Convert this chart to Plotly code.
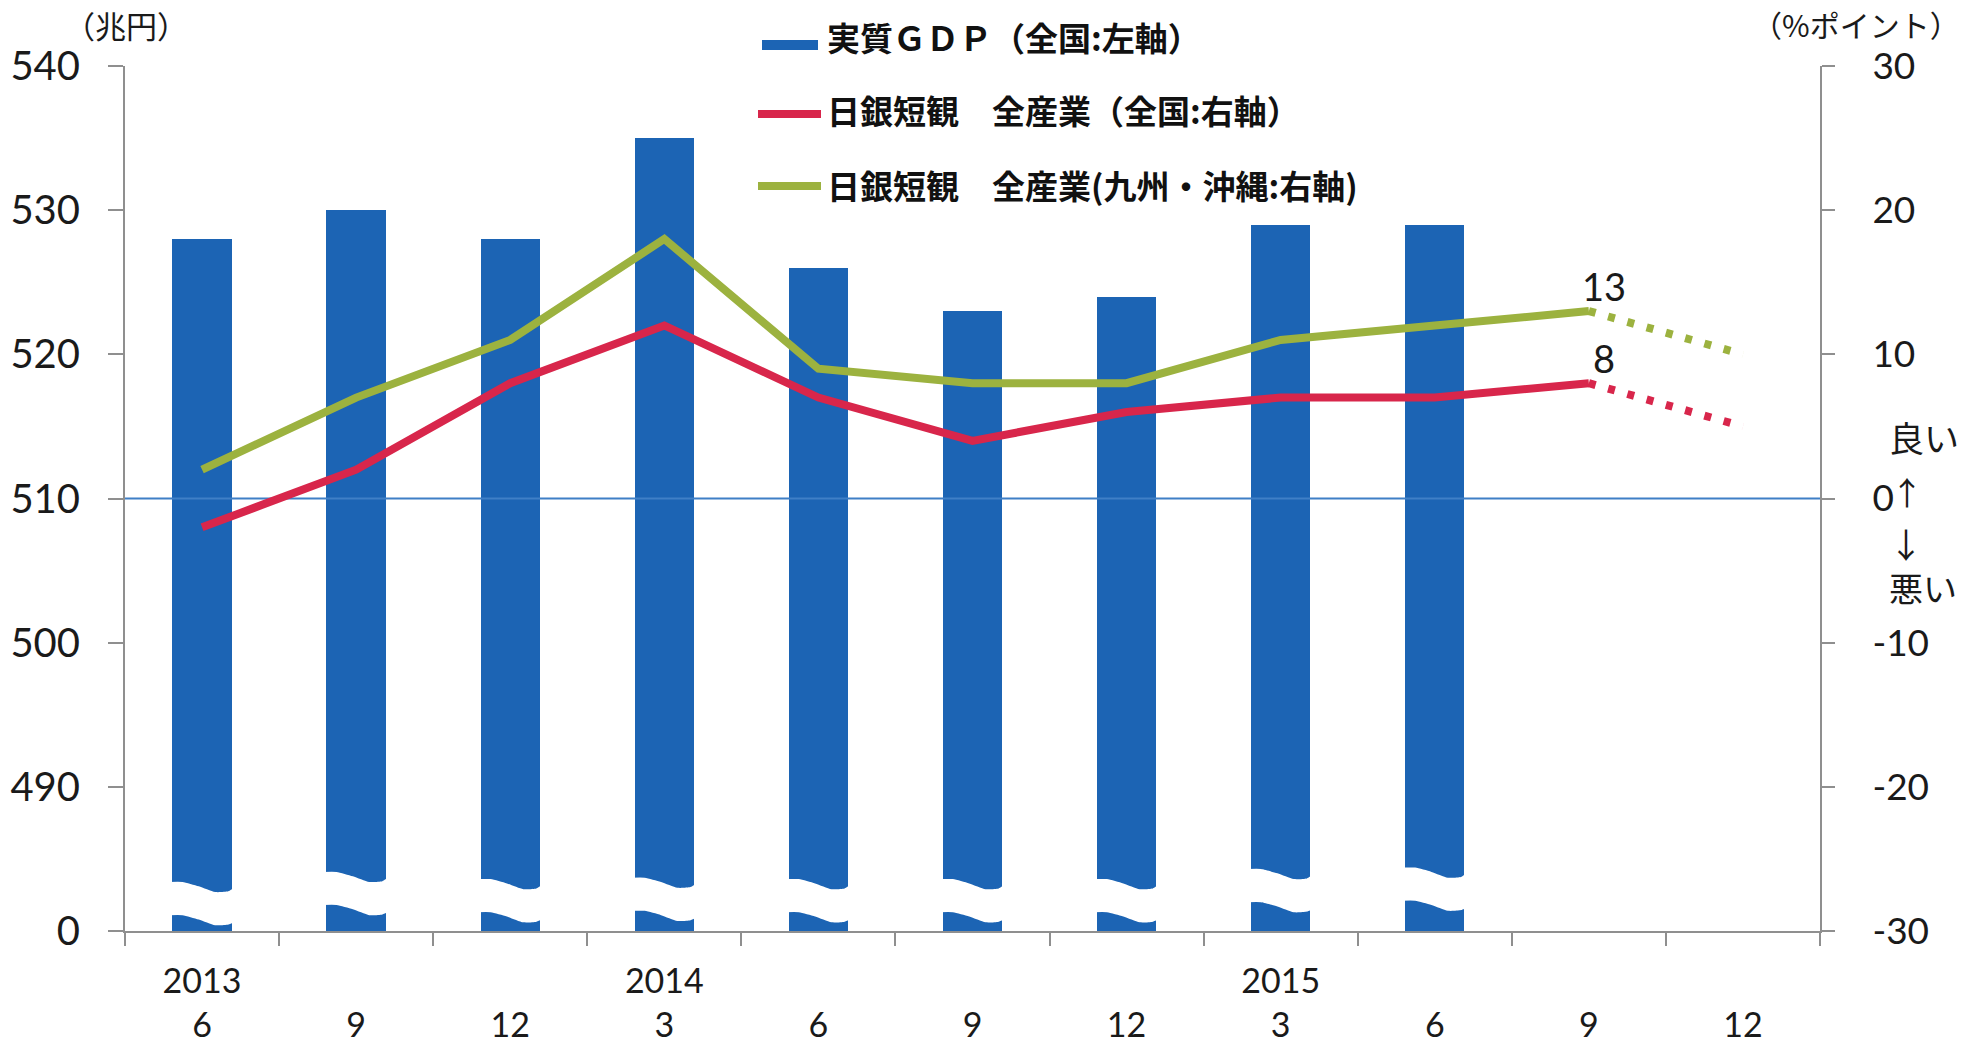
import plotly.graph_objects as go

# ---------------- data ----------------
periods = ["2013/6", "2013/9", "2013/12", "2014/3", "2014/6", "2014/9",
           "2014/12", "2015/3", "2015/6", "2015/9", "2015/12"]
year_labels = ["2013", "", "", "2014", "", "", "", "2015", "", "", ""]
month_labels = ["6", "9", "12", "3", "6", "9", "12", "3", "6", "9", "12"]

# 実質GDP（全国, 兆円, left axis)
gdp_trillion_yen = [528, 530, 528, 535, 526, 523, 524, 529, 529, None, None]
# 日銀短観 全産業 (全国, %ポイント, right axis)
tankan_japan = [-2, 2, 8, 12, 7, 4, 6, 7, 7, 8, None]
# 日銀短観 全産業 (九州・沖縄, %ポイント, right axis)
tankan_kyushu = [2, 7, 11, 18, 9, 8, 8, 11, 12, 13, None]
# forecasts (dotted): last actual -> 2015/12 forecast
tankan_japan_forecast = [None, None, None, None, None, None, None, None, None, 8, 5]
tankan_kyushu_forecast = [None, None, None, None, None, None, None, None, None, 13, 10]

# left axis is broken: its bottom (480 on the scale) is labelled 0
left_tick_values = [480, 490, 500, 510, 520, 530, 540]
left_tick_labels = ["0", "490", "500", "510", "520", "530", "540"]
right_tick_values = [-30, -20, -10, 0, 10, 20, 30]
right_tick_labels = ["-30", "-20", "-10", "0", "10", "20", "30"]

legend_labels = ["実質ＧＤＰ（全国:左軸）",
                 "日銀短観　全産業（全国:右軸）",
                 "日銀短観　全産業(九州・沖縄:右軸)"]

# ---------------- style ----------------
BLUE = "#1c64b4"
RED = "#d8264b"
GREEN = "#9cb23f"
ZERO_BLUE = "#3f7fc6"
AXIS_GRAY = "#8f8f8f"
TXT = "#1a1a1a"
NUM_FONT = "Lato"
JP_FONT = "Noto Sans CJK JP"

W, H = 1965, 1049
ML, MR, MT, MB = 125, 145, 66, 118
PW, PH = W - ML - MR, H - MT - MB


def px_x(p):
    return (p - ML) / PW


def px_y(p):
    return (H - MB - p) / PH


x_pos = list(range(len(periods)))
BAR_W = 0.385

# break marks (white wavy band near bottom of each bar), in left-axis units
break_centers = [481.9, 482.6, 482.1, 482.2, 482.1, 482.1, 482.1, 482.8, 482.9]
BREAK_HALF = 1.15
wave_t = [0.0, 0.2, 0.45, 0.7, 0.9, 1.0]
wave_off = [0.35, 0.35, 0.05, -0.35, -0.3, -0.05]

fig = go.Figure()

fig.add_trace(go.Bar(
    x=x_pos, y=gdp_trillion_yen, width=BAR_W, marker=dict(color=BLUE, line=dict(width=0)),
    yaxis="y", showlegend=False, hoverinfo="skip"))

bx, by = [], []
for i, v in enumerate(gdp_trillion_yen):
    if v is None:
        continue
    c = break_centers[i]
    x0 = x_pos[i] - BAR_W / 2 - 0.02
    span = BAR_W + 0.04
    top_x = [x0 + t * span for t in wave_t]
    top_y = [c + BREAK_HALF + o for o in wave_off]
    bot_x = list(reversed(top_x))
    bot_y = [c - BREAK_HALF + o for o in reversed(wave_off)]
    bx += top_x + bot_x + [None]
    by += top_y + bot_y + [None]
fig.add_trace(go.Scatter(
    x=bx, y=by, mode="lines", fill="toself", fillcolor="white",
    line=dict(width=0, color="white", shape="spline", smoothing=0.6),
    yaxis="y", showlegend=False, hoverinfo="skip"))

# zero line of right axis
fig.add_trace(go.Scatter(
    x=[x_pos[0] - 0.5, x_pos[-1] + 0.5], y=[0, 0], mode="lines",
    line=dict(color=ZERO_BLUE, width=2), yaxis="y2", showlegend=False, hoverinfo="skip"))

for vals, fc, col in [(tankan_japan, tankan_japan_forecast, RED),
                      (tankan_kyushu, tankan_kyushu_forecast, GREEN)]:
    fig.add_trace(go.Scatter(
        x=x_pos, y=vals, mode="lines", line=dict(color=col, width=8),
        yaxis="y2", showlegend=False, hoverinfo="skip"))
    fig.add_trace(go.Scatter(
        x=x_pos, y=fc, mode="lines", line=dict(color=col, width=8, dash="7px,13px"),
        yaxis="y2", showlegend=False, hoverinfo="skip"))

annotations = []
# value labels on last actual points
for series in (tankan_japan, tankan_kyushu):
    last = max(i for i, v in enumerate(series) if v is not None)
    annotations.append(dict(
        x=x_pos[last], y=series[last], xref="x", yref="y2", text=str(series[last]),
        showarrow=False, xshift=15, yshift=25, xanchor="center", yanchor="middle",
        font=dict(family=NUM_FONT, size=38, color=TXT)))

# unit labels
annotations.append(dict(x=px_x(126), y=px_y(1), xref="paper", yref="paper", text="（兆円）",
                        showarrow=False, xanchor="center", yanchor="top", borderpad=0,
                        font=dict(family=JP_FONT, size=31, color=TXT)))
annotations.append(dict(x=px_x(1961), y=px_y(1), xref="paper", yref="paper", text="（%ポイント）",
                        showarrow=False, xanchor="right", yanchor="top", borderpad=0,
                        font=dict(family=JP_FONT, size=30, color=TXT)))
# good / bad markers
annotations.append(dict(x=px_x(1887), y=px_y(437), xref="paper", yref="paper", text="良い",
                        showarrow=False, xanchor="left", yanchor="middle",
                        font=dict(family=JP_FONT, size=35, color=TXT)))
annotations.append(dict(x=px_x(1889), y=px_y(491), xref="paper", yref="paper", text="↑",
                        showarrow=False, xanchor="left", yanchor="middle",
                        font=dict(family=JP_FONT, size=32, color=TXT)))
annotations.append(dict(x=px_x(1887), y=px_y(565), xref="paper", yref="paper", text="↓<br>悪い",
                        showarrow=False, xanchor="left", yanchor="middle", align="left",
                        font=dict(family=JP_FONT, size=34, color=TXT)))

# manual legend
shapes = [
    dict(type="rect", xref="paper", yref="paper", x0=px_x(762), x1=px_x(818),
         y0=px_y(50), y1=px_y(40), fillcolor=BLUE, line=dict(width=0)),
    dict(type="line", xref="paper", yref="paper", x0=px_x(758), x1=px_x(821),
         y0=px_y(114), y1=px_y(114), line=dict(color=RED, width=8)),
    dict(type="line", xref="paper", yref="paper", x0=px_x(758), x1=px_x(821),
         y0=px_y(186), y1=px_y(186), line=dict(color=GREEN, width=8)),
]
for txt, cy in zip(legend_labels, [37, 110, 185]):
    annotations.append(dict(x=px_x(825), y=px_y(cy), xref="paper", yref="paper", text=txt,
                            showarrow=False, xanchor="left", yanchor="middle",
                            font=dict(family=JP_FONT, size=33, color="#111111", weight="bold")))

boundaries = [x - 0.5 for x in x_pos] + [x_pos[-1] + 0.5]

fig.update_layout(
    width=W, height=H,
    margin=dict(l=ML, r=MR, t=MT, b=MB, pad=0),
    paper_bgcolor="white", plot_bgcolor="white",
    showlegend=False, bargap=0,
    xaxis=dict(
        range=[x_pos[0] - 0.5, x_pos[-1] + 0.5], tickmode="array", tickvals=x_pos,
        ticktext=[f"{y if y else ' '}<br>{m}" for y, m in zip(year_labels, month_labels)],
        ticks="", showline=True, linecolor=AXIS_GRAY, linewidth=2, showgrid=False,
        zeroline=False, tickfont=dict(family=NUM_FONT, size=34, color=TXT),
        ticklabelstandoff=19, automargin=False,
        minor=dict(tickmode="array", tickvals=boundaries, ticks="outside", ticklen=13,
                   tickwidth=2, tickcolor=AXIS_GRAY, showgrid=False)),
    yaxis=dict(
        range=[left_tick_values[0], left_tick_values[-1]], tickmode="array",
        tickvals=left_tick_values, ticktext=left_tick_labels, ticks="outside", ticklen=15,
        tickwidth=2, tickcolor=AXIS_GRAY, showline=True, linecolor=AXIS_GRAY, linewidth=2,
        showgrid=False, zeroline=False, tickfont=dict(family=NUM_FONT, size=40, color=TXT),
        ticklabelstandoff=20, automargin=False),
    yaxis2=dict(
        overlaying="y", side="right", range=[right_tick_values[0], right_tick_values[-1]],
        tickmode="array", tickvals=right_tick_values, ticktext=right_tick_labels,
        ticks="outside", ticklen=13,
        tickwidth=2, tickcolor=AXIS_GRAY, showline=True, linecolor=AXIS_GRAY, linewidth=2,
        showgrid=False, zeroline=False, tickfont=dict(family=NUM_FONT, size=37, color=TXT),
        ticklabelstandoff=30, automargin=False),
    annotations=annotations,
    shapes=shapes,
)

fig.write_html("out.html")
